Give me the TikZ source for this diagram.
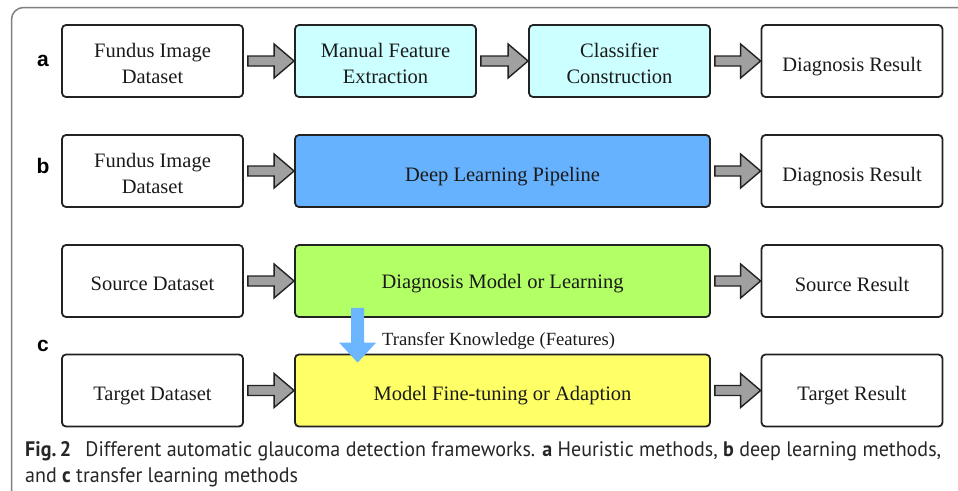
\documentclass[tikz,border=0pt]{standalone}
\usepackage{fontspec}
\usepackage{graphicx}
\setmainfont{Liberation Serif}
\newfontfamily\capfont{PT Sans}
\newfontfamily\labfont{Liberation Sans}
\usetikzlibrary{calc}
\definecolor{boxline}{HTML}{222222}
\definecolor{textc}{HTML}{1A1A1A}
\definecolor{framec}{HTML}{808080}
\definecolor{cyanf}{HTML}{CCFFFF}
\definecolor{bluef}{HTML}{66B2FF}
\definecolor{greenf}{HTML}{B3FF66}
\definecolor{yellowf}{HTML}{FFFF66}
\definecolor{grayar}{HTML}{A0A0A0}
\definecolor{tblue}{HTML}{6CB5FF}
\newcommand\grayarrow[2]{\draw[garrow] ($(#1.east)+(4,-5)$) -- ($(#2.west)+(-20,-5)$) -- ($(#2.west)+(-20,-17)$) -- (#2.west) -- ($(#2.west)+(-20,17)$) -- ($(#2.west)+(-20,5)$) -- ($(#1.east)+(4,5)$) -- cycle;}
\newcommand\one[2][5.5pt]{\raisebox{-#1}[\height][\depth]{#2}}
\newcommand\two[2]{\raisebox{-4.5pt}[\height][\depth]{\renewcommand\arraystretch{1.05}\begin{tabular}{@{}c@{}}#1\\#2\end{tabular}}}
\begin{document}
\begin{tikzpicture}[x=1pt,y=-1pt,
  box/.style={draw=boxline, line width=1.8pt, rounded corners=4pt, minimum height=72pt, minimum width=181pt, inner sep=0pt, align=center, font=\fontsize{20.5}{24}\selectfont, text=textc},
  widebox/.style={box, minimum width=415pt},
  garrow/.style={draw=boxline, line width=1.4pt, fill=grayar},
  rowlab/.style={font=\labfont\bfseries\fontsize{21}{24}\selectfont, text=black, inner sep=0pt}]
\useasboundingbox (0,0) rectangle (958,490);
\begin{scope}
\clip (0,0) rectangle (958,490);
\draw[framec, line width=1.5pt, rounded corners=12pt] (11.5,7.5) rectangle (1000,540);
\end{scope}
% labels
\node[rowlab] (la) at (43,61) {a};
\node[rowlab] (lb) at (43,166) {b};
\node[rowlab] (lc) at (43,346) {c};
% row a
\node[box] (a1) at (152.5,61) {\two{Fundus Image}{Dataset}};
\node[box, fill=cyanf] (a2) at (385.5,61) {\two{Manual Feature}{Extraction}};
\node[box, fill=cyanf] (a3) at (619.5,61) {\two{Classifier}{Construction}};
\node[box] (a4) at (852,61) {\one{Diagnosis Result}};
% row b
\node[box] (b1) at (152.5,171) {\two{Fundus Image}{Dataset}};
\node[widebox, fill=bluef] (b2) at (502.5,171) {\one{Deep Learning Pipeline}};
\node[box] (b4) at (852,171) {\one{Diagnosis Result}};
% row c
\node[box] (c1) at (152.5,281) {\one[3pt]{Source Dataset}};
\node[widebox, fill=greenf] (c2) at (502.5,281) {\one[3pt]{Diagnosis Model or Learning}};
\node[box] (c4) at (852,281) {\one[3pt]{Source Result}};
\node[box] (d1) at (152.5,390.5) {\one{Target Dataset}};
\node[widebox, fill=yellowf] (d2) at (502.5,390.5) {\one{Model Fine-tuning or Adaption}};
\node[box] (d4) at (852,390.5) {\one{Target Result}};
% gray arrows
\grayarrow{a1}{a2}
\grayarrow{a2}{a3}
\grayarrow{a3}{a4}
\grayarrow{b1}{b2}
\grayarrow{b2}{b4}
\grayarrow{c1}{c2}
\grayarrow{c2}{c4}
\grayarrow{d1}{d2}
\grayarrow{d2}{d4}
% transfer arrow
\coordinate (ts) at ($(c2.south west)+(63.5,-10)$);
\coordinate (tt) at ($(d2.north west)+(63.5,9)$);
\fill[tblue] ($(ts)+(-6.5,0)$) -- ($(tt)+(-6.5,-20)$) -- ($(tt)+(-18.5,-20)$) -- (tt) -- ($(tt)+(18.5,-20)$) -- ($(tt)+(6.5,-20)$) -- ($(ts)+(6.5,0)$) -- cycle;
\node[anchor=base west, inner sep=0pt, text=textc, font=\fontsize{18.6}{22}\selectfont] (tk) at (382,345) {Transfer Knowledge (Features)};
% caption
\node[anchor=base west, inner sep=0pt, text=black!85] (cap) at (25,456) {\resizebox{916pt}{\height}{\capfont\fontsize{21}{26}\selectfont\begin{tabular}[t]{@{}l@{}}\textbf{Fig.\,2}\hspace{0.45em} Different automatic glaucoma detection frameworks. \textbf{a} Heuristic methods, \textbf{b} deep learning methods,\\ and \textbf{c} transfer learning methods\end{tabular}}};
\end{tikzpicture}
\end{document}
